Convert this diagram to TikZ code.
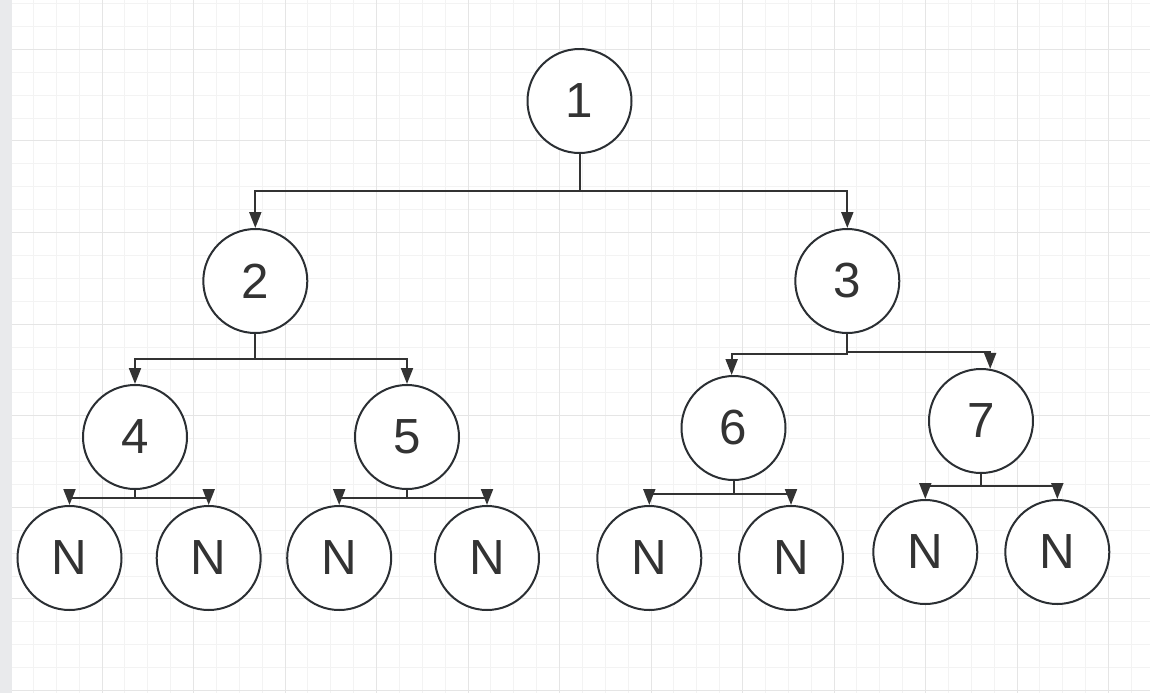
\documentclass[tikz,border=0pt]{standalone}
\usepackage{fontspec}
\setmainfont{Liberation Sans}
\usetikzlibrary{arrows.meta}
\definecolor{ink}{HTML}{333333}
\definecolor{ring}{HTML}{2B2F33}
\definecolor{gridminor}{HTML}{F3F3F3}
\definecolor{gridmajor}{HTML}{E5E5E5}
\definecolor{strip}{HTML}{E9EAEC}
\tikzset{
  tnode/.style={circle, draw=ring, line width=1.5pt, fill=white, minimum size=78pt, inner sep=0pt,
    text=ink, font=\fontsize{37}{40}\selectfont},
  edge/.style={draw=ink, line width=1.5pt, -{Triangle[length=12pt,width=9pt]}},
  minorline/.style={draw=gridminor, line width=0.75pt},
  majorline/.style={draw=gridmajor, line width=0.75pt}
}
\begin{document}
\begin{tikzpicture}[x=0.75pt,y=-0.75pt]
\useasboundingbox (0,0) rectangle (1150,693);
\fill[white] (0,0) rectangle (1150,693);
% grid
\foreach \xx in {10.5,33.375,...,1150} \draw[minorline] (\xx,0) -- (\xx,693);
\foreach \yy in {3.5,26.4,...,693} \draw[minorline] (0,\yy) -- (1150,\yy);
\foreach \xx in {10.5,102,...,1150} \draw[majorline] (\xx,0) -- (\xx,693);
\foreach \yy in {49.3,140.9,...,693} \draw[majorline] (0,\yy) -- (1150,\yy);
\fill[strip] (0,0) rectangle (12,693);
% nodes
\node[tnode] (n1) at (579.5,101) {1};
\node[tnode] (n2) at (255.3,281) {2};
\node[tnode] (n3) at (847.3,281) {3};
\node[tnode] (n4) at (135,437) {4};
\node[tnode] (n5) at (407,437) {5};
\node[tnode] (n6) at (733.5,428) {6};
\node[tnode] (n7) at (981,421) {7};
\node[tnode] (la) at (69.5,558) {N};
\node[tnode] (lb) at (208.7,558) {N};
\node[tnode] (lc) at (339.2,558) {N};
\node[tnode] (ld) at (487,558) {N};
\node[tnode] (le) at (649.3,558) {N};
\node[tnode] (lf) at (791,558) {N};
\node[tnode] (lg) at (925.3,552) {N};
\node[tnode] (lh) at (1057.3,552) {N};
% bus points
\coordinate (b1) at (579.5,191.3);
\coordinate (b2) at (255.3,359);
\coordinate (b36) at (847.3,354.3);
\coordinate (b37) at (847.3,351.7);
\coordinate (b4) at (135,498.3);
\coordinate (b5) at (407,498.3);
\coordinate (b6) at (733.5,494);
\coordinate (b7) at (981,486);
% connectors
\draw[edge] (n1) -- (b1) -| (n2);
\draw[edge] (n1) -- (b1) -| (n3);
\draw[edge] (n2) -- (b2) -| (n4);
\draw[edge] (n2) -- (b2) -| (n5);
\draw[edge] (n3) -- (b36) -| (n6.92);
\draw[edge] (n3) -- (b37) -| (n7.80);
\draw[edge] (n4) -- (b4) -| (la);
\draw[edge] (n4) -- (b4) -| (lb);
\draw[edge] (n5) -- (b5) -| (lc);
\draw[edge] (n5) -- (b5) -| (ld);
\draw[edge] (n6) -- (b6) -| (le);
\draw[edge] (n6) -- (b6) -| (lf);
\draw[edge] (n7) -- (b7) -| (lg);
\draw[edge] (n7) -- (b7) -| (lh);
\end{tikzpicture}
\end{document}
